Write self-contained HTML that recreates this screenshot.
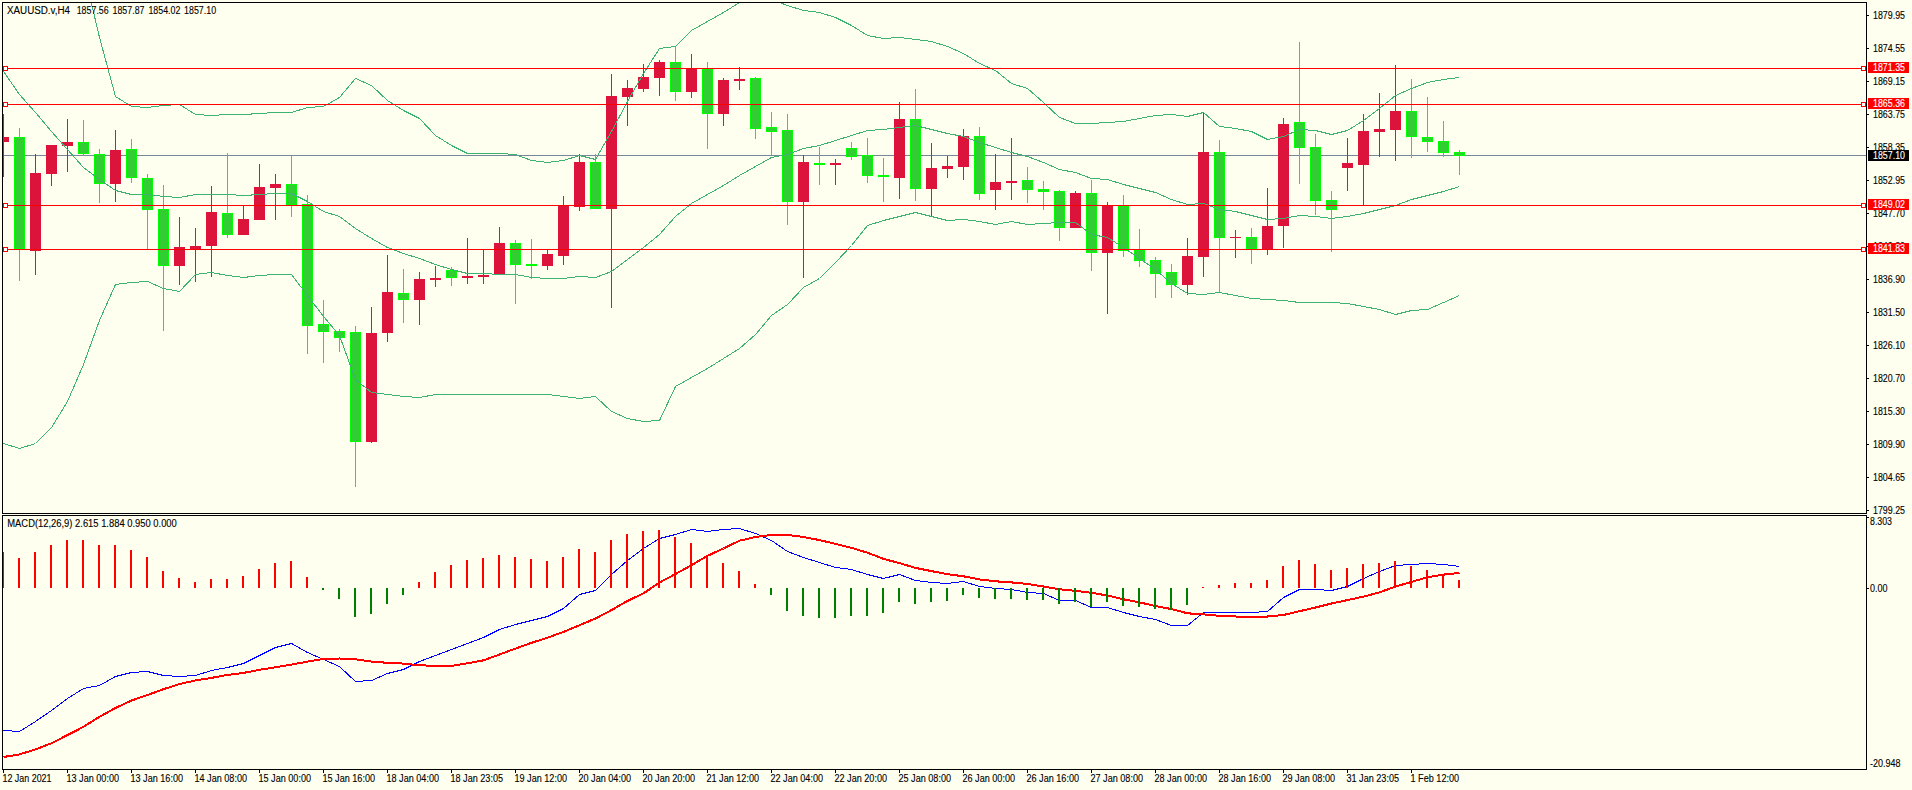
<!DOCTYPE html><html><head><meta charset="utf-8"><title>XAUUSD.v,H4</title><style>
html,body{margin:0;padding:0;background:#FFFFF0;width:1912px;height:790px;overflow:hidden}
svg{display:block}
text{font-family:'Liberation Sans',Arial,sans-serif;font-size:10px;fill:#000;stroke:#000;stroke-width:0.12px;paint-order:stroke}
</style></head><body>
<svg width="1912" height="790" viewBox="0 0 1912 790">
<defs><clipPath id="cm"><rect x="3" y="3" width="1863" height="510"/></clipPath>
<clipPath id="cd"><rect x="3" y="516" width="1863" height="253"/></clipPath></defs>
<rect x="0" y="0" width="1912" height="790" fill="#FFFFF0"/>
<g clip-path="url(#cm)" shape-rendering="crispEdges">
<rect x="3" y="155" width="1863" height="1" fill="#778899"/>
<rect x="3" y="114" width="1" height="63" fill="#DC143C"/>
<rect x="-2" y="137" width="11" height="5" fill="#DC143C"/>
<rect x="19" y="128" width="1" height="153" fill="#00FF00"/>
<rect x="14" y="137" width="11" height="112" fill="#00FF00"/>
<rect x="15" y="138" width="9" height="110" fill="#32CD32"/>
<rect x="35" y="154" width="1" height="121" fill="#DC143C"/>
<rect x="30" y="173" width="11" height="78" fill="#DC143C"/>
<rect x="51" y="145" width="1" height="41" fill="#DC143C"/>
<rect x="46" y="145" width="11" height="29" fill="#DC143C"/>
<rect x="67" y="119" width="1" height="53" fill="#DC143C"/>
<rect x="62" y="142" width="11" height="4" fill="#DC143C"/>
<rect x="83" y="120" width="1" height="35" fill="#00FF00"/>
<rect x="78" y="142" width="11" height="12" fill="#00FF00"/>
<rect x="79" y="143" width="9" height="10" fill="#32CD32"/>
<rect x="99" y="149" width="1" height="54" fill="#00FF00"/>
<rect x="94" y="154" width="11" height="30" fill="#00FF00"/>
<rect x="95" y="155" width="9" height="28" fill="#32CD32"/>
<rect x="115" y="130" width="1" height="72" fill="#DC143C"/>
<rect x="110" y="150" width="11" height="34" fill="#DC143C"/>
<rect x="131" y="139" width="1" height="44" fill="#00FF00"/>
<rect x="126" y="149" width="11" height="29" fill="#00FF00"/>
<rect x="127" y="150" width="9" height="27" fill="#32CD32"/>
<rect x="147" y="174" width="1" height="75" fill="#00FF00"/>
<rect x="142" y="178" width="11" height="32" fill="#00FF00"/>
<rect x="143" y="179" width="9" height="30" fill="#32CD32"/>
<rect x="163" y="185" width="1" height="146" fill="#00FF00"/>
<rect x="158" y="209" width="11" height="57" fill="#00FF00"/>
<rect x="159" y="210" width="9" height="55" fill="#32CD32"/>
<rect x="179" y="217" width="1" height="68" fill="#DC143C"/>
<rect x="174" y="247" width="11" height="19" fill="#DC143C"/>
<rect x="195" y="228" width="1" height="54" fill="#DC143C"/>
<rect x="190" y="246" width="11" height="3" fill="#DC143C"/>
<rect x="211" y="186" width="1" height="91" fill="#DC143C"/>
<rect x="206" y="212" width="11" height="34" fill="#DC143C"/>
<rect x="227" y="153" width="1" height="85" fill="#00FF00"/>
<rect x="222" y="213" width="11" height="22" fill="#00FF00"/>
<rect x="223" y="214" width="9" height="20" fill="#32CD32"/>
<rect x="243" y="206" width="1" height="29" fill="#DC143C"/>
<rect x="238" y="219" width="11" height="16" fill="#DC143C"/>
<rect x="259" y="164" width="1" height="56" fill="#DC143C"/>
<rect x="254" y="187" width="11" height="33" fill="#DC143C"/>
<rect x="275" y="174" width="1" height="46" fill="#DC143C"/>
<rect x="270" y="184" width="11" height="4" fill="#DC143C"/>
<rect x="291" y="156" width="1" height="61" fill="#00FF00"/>
<rect x="286" y="184" width="11" height="21" fill="#00FF00"/>
<rect x="287" y="185" width="9" height="19" fill="#32CD32"/>
<rect x="307" y="195" width="1" height="159" fill="#00FF00"/>
<rect x="302" y="204" width="11" height="122" fill="#00FF00"/>
<rect x="303" y="205" width="9" height="120" fill="#32CD32"/>
<rect x="323" y="300" width="1" height="63" fill="#00FF00"/>
<rect x="318" y="324" width="11" height="8" fill="#00FF00"/>
<rect x="319" y="325" width="9" height="6" fill="#32CD32"/>
<rect x="339" y="329" width="1" height="23" fill="#00FF00"/>
<rect x="334" y="331" width="11" height="7" fill="#00FF00"/>
<rect x="335" y="332" width="9" height="5" fill="#32CD32"/>
<rect x="355" y="326" width="1" height="161" fill="#00FF00"/>
<rect x="350" y="332" width="11" height="110" fill="#00FF00"/>
<rect x="351" y="333" width="9" height="108" fill="#32CD32"/>
<rect x="371" y="307" width="1" height="136" fill="#DC143C"/>
<rect x="366" y="333" width="11" height="109" fill="#DC143C"/>
<rect x="387" y="255" width="1" height="87" fill="#DC143C"/>
<rect x="382" y="292" width="11" height="41" fill="#DC143C"/>
<rect x="403" y="269" width="1" height="54" fill="#00FF00"/>
<rect x="398" y="293" width="11" height="7" fill="#00FF00"/>
<rect x="399" y="294" width="9" height="5" fill="#32CD32"/>
<rect x="419" y="272" width="1" height="53" fill="#DC143C"/>
<rect x="414" y="279" width="11" height="21" fill="#DC143C"/>
<rect x="435" y="266" width="1" height="21" fill="#DC143C"/>
<rect x="430" y="278" width="11" height="2" fill="#DC143C"/>
<rect x="451" y="267" width="1" height="19" fill="#00FF00"/>
<rect x="446" y="270" width="11" height="8" fill="#00FF00"/>
<rect x="447" y="271" width="9" height="6" fill="#32CD32"/>
<rect x="467" y="238" width="1" height="46" fill="#DC143C"/>
<rect x="462" y="276" width="11" height="2" fill="#DC143C"/>
<rect x="483" y="250" width="1" height="34" fill="#DC143C"/>
<rect x="478" y="275" width="11" height="2" fill="#DC143C"/>
<rect x="499" y="227" width="1" height="47" fill="#DC143C"/>
<rect x="494" y="243" width="11" height="31" fill="#DC143C"/>
<rect x="515" y="240" width="1" height="64" fill="#00FF00"/>
<rect x="510" y="243" width="11" height="22" fill="#00FF00"/>
<rect x="511" y="244" width="9" height="20" fill="#32CD32"/>
<rect x="531" y="239" width="1" height="40" fill="#00FF00"/>
<rect x="526" y="264" width="11" height="2" fill="#00FF00"/>
<rect x="547" y="250" width="1" height="20" fill="#DC143C"/>
<rect x="542" y="254" width="11" height="12" fill="#DC143C"/>
<rect x="563" y="196" width="1" height="69" fill="#DC143C"/>
<rect x="558" y="205" width="11" height="51" fill="#DC143C"/>
<rect x="579" y="154" width="1" height="57" fill="#DC143C"/>
<rect x="574" y="162" width="11" height="45" fill="#DC143C"/>
<rect x="595" y="154" width="1" height="55" fill="#00FF00"/>
<rect x="590" y="162" width="11" height="47" fill="#00FF00"/>
<rect x="591" y="163" width="9" height="45" fill="#32CD32"/>
<rect x="611" y="74" width="1" height="234" fill="#DC143C"/>
<rect x="606" y="96" width="11" height="113" fill="#DC143C"/>
<rect x="627" y="80" width="1" height="46" fill="#DC143C"/>
<rect x="622" y="88" width="11" height="9" fill="#DC143C"/>
<rect x="643" y="64" width="1" height="28" fill="#DC143C"/>
<rect x="638" y="77" width="11" height="12" fill="#DC143C"/>
<rect x="659" y="60" width="1" height="36" fill="#DC143C"/>
<rect x="654" y="62" width="11" height="16" fill="#DC143C"/>
<rect x="675" y="46" width="1" height="55" fill="#00FF00"/>
<rect x="670" y="62" width="11" height="30" fill="#00FF00"/>
<rect x="671" y="63" width="9" height="28" fill="#32CD32"/>
<rect x="691" y="54" width="1" height="44" fill="#DC143C"/>
<rect x="686" y="68" width="11" height="24" fill="#DC143C"/>
<rect x="707" y="62" width="1" height="87" fill="#00FF00"/>
<rect x="702" y="69" width="11" height="45" fill="#00FF00"/>
<rect x="703" y="70" width="9" height="43" fill="#32CD32"/>
<rect x="723" y="78" width="1" height="48" fill="#DC143C"/>
<rect x="718" y="80" width="11" height="34" fill="#DC143C"/>
<rect x="739" y="67" width="1" height="23" fill="#DC143C"/>
<rect x="734" y="79" width="11" height="2" fill="#DC143C"/>
<rect x="755" y="77" width="1" height="62" fill="#00FF00"/>
<rect x="750" y="78" width="11" height="51" fill="#00FF00"/>
<rect x="751" y="79" width="9" height="49" fill="#32CD32"/>
<rect x="771" y="112" width="1" height="43" fill="#00FF00"/>
<rect x="766" y="127" width="11" height="5" fill="#00FF00"/>
<rect x="767" y="128" width="9" height="3" fill="#32CD32"/>
<rect x="787" y="114" width="1" height="111" fill="#00FF00"/>
<rect x="782" y="130" width="11" height="72" fill="#00FF00"/>
<rect x="783" y="131" width="9" height="70" fill="#32CD32"/>
<rect x="803" y="155" width="1" height="123" fill="#DC143C"/>
<rect x="798" y="162" width="11" height="40" fill="#DC143C"/>
<rect x="819" y="147" width="1" height="38" fill="#00FF00"/>
<rect x="814" y="163" width="11" height="2" fill="#00FF00"/>
<rect x="835" y="159" width="1" height="26" fill="#DC143C"/>
<rect x="830" y="163" width="11" height="2" fill="#DC143C"/>
<rect x="851" y="142" width="1" height="18" fill="#00FF00"/>
<rect x="846" y="148" width="11" height="9" fill="#00FF00"/>
<rect x="847" y="149" width="9" height="7" fill="#32CD32"/>
<rect x="867" y="138" width="1" height="45" fill="#00FF00"/>
<rect x="862" y="155" width="11" height="21" fill="#00FF00"/>
<rect x="863" y="156" width="9" height="19" fill="#32CD32"/>
<rect x="883" y="158" width="1" height="44" fill="#00FF00"/>
<rect x="878" y="175" width="11" height="2" fill="#00FF00"/>
<rect x="899" y="102" width="1" height="97" fill="#DC143C"/>
<rect x="894" y="119" width="11" height="59" fill="#DC143C"/>
<rect x="915" y="89" width="1" height="112" fill="#00FF00"/>
<rect x="910" y="119" width="11" height="70" fill="#00FF00"/>
<rect x="911" y="120" width="9" height="68" fill="#32CD32"/>
<rect x="931" y="143" width="1" height="74" fill="#DC143C"/>
<rect x="926" y="168" width="11" height="21" fill="#DC143C"/>
<rect x="947" y="156" width="1" height="22" fill="#DC143C"/>
<rect x="942" y="166" width="11" height="3" fill="#DC143C"/>
<rect x="963" y="129" width="1" height="51" fill="#DC143C"/>
<rect x="958" y="136" width="11" height="31" fill="#DC143C"/>
<rect x="979" y="127" width="1" height="73" fill="#00FF00"/>
<rect x="974" y="136" width="11" height="58" fill="#00FF00"/>
<rect x="975" y="137" width="9" height="56" fill="#32CD32"/>
<rect x="995" y="154" width="1" height="56" fill="#DC143C"/>
<rect x="990" y="182" width="11" height="8" fill="#DC143C"/>
<rect x="1011" y="138" width="1" height="62" fill="#DC143C"/>
<rect x="1006" y="181" width="11" height="2" fill="#DC143C"/>
<rect x="1027" y="167" width="1" height="36" fill="#00FF00"/>
<rect x="1022" y="180" width="11" height="10" fill="#00FF00"/>
<rect x="1023" y="181" width="9" height="8" fill="#32CD32"/>
<rect x="1043" y="181" width="1" height="29" fill="#00FF00"/>
<rect x="1038" y="189" width="11" height="3" fill="#00FF00"/>
<rect x="1039" y="190" width="9" height="1" fill="#32CD32"/>
<rect x="1059" y="190" width="1" height="51" fill="#00FF00"/>
<rect x="1054" y="191" width="11" height="37" fill="#00FF00"/>
<rect x="1055" y="192" width="9" height="35" fill="#32CD32"/>
<rect x="1075" y="191" width="1" height="37" fill="#DC143C"/>
<rect x="1070" y="193" width="11" height="35" fill="#DC143C"/>
<rect x="1091" y="180" width="1" height="91" fill="#00FF00"/>
<rect x="1086" y="193" width="11" height="60" fill="#00FF00"/>
<rect x="1087" y="194" width="9" height="58" fill="#32CD32"/>
<rect x="1107" y="202" width="1" height="112" fill="#DC143C"/>
<rect x="1102" y="205" width="11" height="48" fill="#DC143C"/>
<rect x="1123" y="195" width="1" height="62" fill="#00FF00"/>
<rect x="1118" y="206" width="11" height="45" fill="#00FF00"/>
<rect x="1119" y="207" width="9" height="43" fill="#32CD32"/>
<rect x="1139" y="229" width="1" height="38" fill="#00FF00"/>
<rect x="1134" y="250" width="11" height="11" fill="#00FF00"/>
<rect x="1135" y="251" width="9" height="9" fill="#32CD32"/>
<rect x="1155" y="257" width="1" height="41" fill="#00FF00"/>
<rect x="1150" y="260" width="11" height="14" fill="#00FF00"/>
<rect x="1151" y="261" width="9" height="12" fill="#32CD32"/>
<rect x="1171" y="264" width="1" height="34" fill="#00FF00"/>
<rect x="1166" y="272" width="11" height="13" fill="#00FF00"/>
<rect x="1167" y="273" width="9" height="11" fill="#32CD32"/>
<rect x="1187" y="238" width="1" height="57" fill="#DC143C"/>
<rect x="1182" y="256" width="11" height="29" fill="#DC143C"/>
<rect x="1203" y="112" width="1" height="165" fill="#DC143C"/>
<rect x="1198" y="152" width="11" height="105" fill="#DC143C"/>
<rect x="1219" y="140" width="1" height="152" fill="#00FF00"/>
<rect x="1214" y="152" width="11" height="86" fill="#00FF00"/>
<rect x="1215" y="153" width="9" height="84" fill="#32CD32"/>
<rect x="1235" y="230" width="1" height="28" fill="#DC143C"/>
<rect x="1230" y="237" width="11" height="1" fill="#DC143C"/>
<rect x="1251" y="228" width="1" height="36" fill="#00FF00"/>
<rect x="1246" y="237" width="11" height="12" fill="#00FF00"/>
<rect x="1247" y="238" width="9" height="10" fill="#32CD32"/>
<rect x="1267" y="188" width="1" height="67" fill="#DC143C"/>
<rect x="1262" y="226" width="11" height="23" fill="#DC143C"/>
<rect x="1283" y="118" width="1" height="130" fill="#DC143C"/>
<rect x="1278" y="124" width="11" height="102" fill="#DC143C"/>
<rect x="1299" y="42" width="1" height="142" fill="#00FF00"/>
<rect x="1294" y="122" width="11" height="26" fill="#00FF00"/>
<rect x="1295" y="123" width="9" height="24" fill="#32CD32"/>
<rect x="1315" y="134" width="1" height="81" fill="#00FF00"/>
<rect x="1310" y="147" width="11" height="54" fill="#00FF00"/>
<rect x="1311" y="148" width="9" height="52" fill="#32CD32"/>
<rect x="1331" y="191" width="1" height="61" fill="#00FF00"/>
<rect x="1326" y="200" width="11" height="10" fill="#00FF00"/>
<rect x="1327" y="201" width="9" height="8" fill="#32CD32"/>
<rect x="1347" y="138" width="1" height="53" fill="#DC143C"/>
<rect x="1342" y="163" width="11" height="5" fill="#DC143C"/>
<rect x="1363" y="114" width="1" height="91" fill="#DC143C"/>
<rect x="1358" y="131" width="11" height="34" fill="#DC143C"/>
<rect x="1379" y="93" width="1" height="64" fill="#DC143C"/>
<rect x="1374" y="129" width="11" height="3" fill="#DC143C"/>
<rect x="1395" y="65" width="1" height="96" fill="#DC143C"/>
<rect x="1390" y="111" width="11" height="19" fill="#DC143C"/>
<rect x="1411" y="79" width="1" height="79" fill="#00FF00"/>
<rect x="1406" y="111" width="11" height="26" fill="#00FF00"/>
<rect x="1407" y="112" width="9" height="24" fill="#32CD32"/>
<rect x="1427" y="97" width="1" height="55" fill="#00FF00"/>
<rect x="1422" y="137" width="11" height="5" fill="#00FF00"/>
<rect x="1423" y="138" width="9" height="3" fill="#32CD32"/>
<rect x="1443" y="121" width="1" height="36" fill="#00FF00"/>
<rect x="1438" y="141" width="11" height="12" fill="#00FF00"/>
<rect x="1439" y="142" width="9" height="10" fill="#32CD32"/>
<rect x="1459" y="150" width="1" height="25" fill="#00FF00"/>
<rect x="1454" y="152" width="11" height="4" fill="#00FF00"/>
<rect x="1455" y="153" width="9" height="2" fill="#32CD32"/>
<polyline points="3.5,-299.5 19.5,-259.5 35.5,-217.5 51.5,-164.5 67.5,-101.5 83.5,-30.5 99.5,37.5 115.5,96.5 131.5,106.5 147.5,107.5 163.5,105.5 179.5,104.5 195.5,114.5 211.5,115.5 227.5,114.5 243.5,114.5 259.5,113.5 275.5,112.5 291.5,112.5 307.5,107.5 323.5,106.5 339.5,97.5 355.5,78.5 371.5,85.5 387.5,100.5 403.5,110.5 419.5,118.5 435.5,135.5 451.5,145.5 467.5,153.5 483.5,153.5 499.5,153.5 515.5,154.5 531.5,160.5 547.5,162.5 563.5,160.5 579.5,155.5 595.5,159.5 611.5,131.5 627.5,101.5 643.5,73.5 659.5,48.5 675.5,46.5 691.5,30.5 707.5,21.5 723.5,12.5 739.5,2.5 755.5,-0.5 771.5,-0.5 787.5,5.5 803.5,10.5 819.5,12.5 835.5,17.5 851.5,25.5 867.5,35.5 883.5,38.5 899.5,37.5 915.5,39.5 931.5,41.5 947.5,46.5 963.5,53.5 979.5,63.5 995.5,70.5 1011.5,83.5 1027.5,88.5 1043.5,102.5 1059.5,117.5 1075.5,123.5 1091.5,123.5 1107.5,122.5 1123.5,121.5 1139.5,118.5 1155.5,115.5 1171.5,114.5 1187.5,116.5 1203.5,112.5 1219.5,126.5 1235.5,128.5 1251.5,131.5 1267.5,139.5 1283.5,136.5 1299.5,129.5 1315.5,130.5 1331.5,134.5 1347.5,130.5 1363.5,120.5 1379.5,108.5 1395.5,95.5 1411.5,88.5 1427.5,82.5 1443.5,79.5 1459.5,77.5" fill="none" stroke="#3CB371" stroke-width="1"/>
<polyline points="3.5,71.5 19.5,94.5 35.5,112.5 51.5,131.5 67.5,149.5 83.5,167.5 99.5,179.5 115.5,190.5 131.5,194.5 147.5,194.5 163.5,196.5 179.5,197.5 195.5,194.5 211.5,194.5 227.5,194.5 243.5,195.5 259.5,194.5 275.5,193.5 291.5,193.5 307.5,201.5 323.5,211.5 339.5,216.5 355.5,228.5 371.5,238.5 387.5,247.5 403.5,253.5 419.5,258.5 435.5,264.5 451.5,269.5 467.5,273.5 483.5,273.5 499.5,274.5 515.5,274.5 531.5,277.5 547.5,278.5 563.5,278.5 579.5,276.5 595.5,277.5 611.5,271.5 627.5,259.5 643.5,247.5 659.5,234.5 675.5,216.5 691.5,203.5 707.5,194.5 723.5,185.5 739.5,175.5 755.5,166.5 771.5,157.5 787.5,154.5 803.5,148.5 819.5,145.5 835.5,140.5 851.5,135.5 867.5,130.5 883.5,129.5 899.5,127.5 915.5,125.5 931.5,129.5 947.5,133.5 963.5,136.5 979.5,142.5 995.5,147.5 1011.5,152.5 1027.5,156.5 1043.5,162.5 1059.5,169.5 1075.5,172.5 1091.5,178.5 1107.5,179.5 1123.5,184.5 1139.5,188.5 1155.5,192.5 1171.5,199.5 1187.5,204.5 1203.5,203.5 1219.5,209.5 1235.5,211.5 1251.5,215.5 1267.5,219.5 1283.5,218.5 1299.5,215.5 1315.5,216.5 1331.5,218.5 1347.5,216.5 1363.5,213.5 1379.5,209.5 1395.5,205.5 1411.5,199.5 1427.5,195.5 1443.5,191.5 1459.5,186.5" fill="none" stroke="#3CB371" stroke-width="1"/>
<polyline points="3.5,443.5 19.5,448.5 35.5,443.5 51.5,427.5 67.5,401.5 83.5,364.5 99.5,320.5 115.5,284.5 131.5,282.5 147.5,281.5 163.5,288.5 179.5,291.5 195.5,274.5 211.5,272.5 227.5,275.5 243.5,277.5 259.5,275.5 275.5,274.5 291.5,274.5 307.5,295.5 323.5,316.5 339.5,335.5 355.5,379.5 371.5,392.5 387.5,394.5 403.5,396.5 419.5,397.5 435.5,394.5 451.5,394.5 467.5,394.5 483.5,394.5 499.5,394.5 515.5,394.5 531.5,394.5 547.5,394.5 563.5,396.5 579.5,398.5 595.5,396.5 611.5,411.5 627.5,418.5 643.5,421.5 659.5,420.5 675.5,386.5 691.5,377.5 707.5,368.5 723.5,358.5 739.5,348.5 755.5,334.5 771.5,315.5 787.5,304.5 803.5,287.5 819.5,278.5 835.5,262.5 851.5,245.5 867.5,225.5 883.5,220.5 899.5,216.5 915.5,212.5 931.5,216.5 947.5,220.5 963.5,219.5 979.5,221.5 995.5,224.5 1011.5,221.5 1027.5,224.5 1043.5,223.5 1059.5,222.5 1075.5,222.5 1091.5,234.5 1107.5,237.5 1123.5,247.5 1139.5,258.5 1155.5,269.5 1171.5,283.5 1187.5,293.5 1203.5,294.5 1219.5,292.5 1235.5,295.5 1251.5,298.5 1267.5,299.5 1283.5,300.5 1299.5,302.5 1315.5,302.5 1331.5,302.5 1347.5,303.5 1363.5,306.5 1379.5,309.5 1395.5,314.5 1411.5,310.5 1427.5,309.5 1443.5,302.5 1459.5,295.5" fill="none" stroke="#3CB371" stroke-width="1"/>
<rect x="3" y="68" width="1863" height="1" fill="#FF0000"/>
<rect x="3" y="104" width="1863" height="1" fill="#FF0000"/>
<rect x="3" y="205" width="1863" height="1" fill="#FF0000"/>
<rect x="3" y="249" width="1863" height="1" fill="#FF0000"/>
<rect x="3" y="66" width="5" height="5" fill="#FF0000"/>
<rect x="4" y="67" width="3" height="3" fill="#FFFFFF"/>
<rect x="1861" y="66" width="5" height="5" fill="#FF0000"/>
<rect x="1862" y="67" width="3" height="3" fill="#FFFFFF"/>
<rect x="3" y="102" width="5" height="5" fill="#FF0000"/>
<rect x="4" y="103" width="3" height="3" fill="#FFFFFF"/>
<rect x="1861" y="102" width="5" height="5" fill="#FF0000"/>
<rect x="1862" y="103" width="3" height="3" fill="#FFFFFF"/>
<rect x="3" y="203" width="5" height="5" fill="#FF0000"/>
<rect x="4" y="204" width="3" height="3" fill="#FFFFFF"/>
<rect x="1861" y="203" width="5" height="5" fill="#FF0000"/>
<rect x="1862" y="204" width="3" height="3" fill="#FFFFFF"/>
<rect x="3" y="247" width="5" height="5" fill="#FF0000"/>
<rect x="4" y="248" width="3" height="3" fill="#FFFFFF"/>
<rect x="1861" y="247" width="5" height="5" fill="#FF0000"/>
<rect x="1862" y="248" width="3" height="3" fill="#FFFFFF"/>
</g>
<g clip-path="url(#cd)" shape-rendering="crispEdges">
<polyline points="3.5,730.5 19.5,731.5 35.5,721.5 51.5,710.5 67.5,698.5 83.5,688.5 99.5,685.5 115.5,676.5 131.5,672.5 147.5,671.5 163.5,675.5 179.5,676.5 195.5,675.5 211.5,670.5 227.5,667.5 243.5,663.5 259.5,655.5 275.5,647.5 291.5,643.5 307.5,652.5 323.5,659.5 339.5,666.5 355.5,681.5 371.5,680.5 387.5,673.5 403.5,669.5 419.5,661.5 435.5,655.5 451.5,649.5 467.5,643.5 483.5,637.5 499.5,629.5 515.5,624.5 531.5,620.5 547.5,616.5 563.5,608.5 579.5,594.5 595.5,590.5 611.5,574.5 627.5,560.5 643.5,548.5 659.5,538.5 675.5,534.5 691.5,529.5 707.5,531.5 723.5,529.5 739.5,528.5 755.5,533.5 771.5,540.5 787.5,551.5 803.5,557.5 819.5,562.5 835.5,567.5 851.5,569.5 867.5,574.5 883.5,578.5 899.5,574.5 915.5,580.5 931.5,582.5 947.5,583.5 963.5,581.5 979.5,586.5 995.5,588.5 1011.5,589.5 1027.5,592.5 1043.5,593.5 1059.5,600.5 1075.5,600.5 1091.5,607.5 1107.5,607.5 1123.5,612.5 1139.5,616.5 1155.5,619.5 1171.5,625.5 1187.5,625.5 1203.5,612.5 1219.5,612.5 1235.5,612.5 1251.5,612.5 1267.5,611.5 1283.5,597.5 1299.5,589.5 1315.5,589.5 1331.5,590.5 1347.5,586.5 1363.5,578.5 1379.5,571.5 1395.5,565.5 1411.5,564.5 1427.5,563.5 1443.5,564.5 1459.5,566.5" fill="none" stroke="#0000FF" stroke-width="1"/>
<polyline points="3.5,757.0 19.5,754.4 35.5,749.4 51.5,743.2 67.5,735.1 83.5,726.8 99.5,716.8 115.5,708.0 131.5,700.5 147.5,695.0 163.5,689.2 179.5,684.1 195.5,680.4 211.5,677.9 227.5,674.9 243.5,672.9 259.5,669.8 275.5,667.3 291.5,664.6 307.5,661.6 323.5,659.0 339.5,658.5 355.5,659.3 371.5,661.6 387.5,662.8 403.5,663.6 419.5,665.3 435.5,665.8 451.5,665.9 467.5,663.3 483.5,660.3 499.5,654.5 515.5,648.6 531.5,642.8 547.5,637.7 563.5,631.9 579.5,625.2 595.5,618.5 611.5,610.1 627.5,600.9 643.5,593.4 659.5,582.5 675.5,574.0 691.5,565.2 707.5,555.8 723.5,548.5 739.5,540.7 755.5,537.0 771.5,534.9 787.5,534.9 803.5,537.0 819.5,540.1 835.5,543.9 851.5,547.8 867.5,552.7 883.5,558.9 899.5,563.1 915.5,567.9 931.5,571.1 947.5,574.2 963.5,576.3 979.5,579.4 995.5,581.3 1011.5,582.4 1027.5,584.0 1043.5,586.5 1059.5,589.3 1075.5,590.9 1091.5,592.8 1107.5,595.5 1123.5,599.3 1139.5,602.4 1155.5,606.0 1171.5,609.1 1187.5,613.3 1203.5,614.4 1219.5,615.8 1235.5,616.5 1251.5,616.5 1267.5,616.5 1283.5,615.0 1299.5,611.2 1315.5,607.5 1331.5,603.5 1347.5,600.1 1363.5,596.6 1379.5,592.4 1395.5,586.5 1411.5,581.9 1427.5,577.3 1443.5,574.6 1459.5,573.0" fill="none" stroke="#FF0000" stroke-width="2" stroke-linejoin="round"/>
<rect x="2" y="552" width="2" height="36" fill="#FF0000"/>
<rect x="18" y="558" width="2" height="30" fill="#FF0000"/>
<rect x="34" y="552" width="2" height="36" fill="#FF0000"/>
<rect x="50" y="545" width="2" height="43" fill="#FF0000"/>
<rect x="66" y="540" width="2" height="48" fill="#FF0000"/>
<rect x="82" y="540" width="2" height="48" fill="#FF0000"/>
<rect x="98" y="545" width="2" height="43" fill="#FF0000"/>
<rect x="114" y="545" width="2" height="43" fill="#FF0000"/>
<rect x="130" y="550" width="2" height="38" fill="#FF0000"/>
<rect x="146" y="557" width="2" height="31" fill="#FF0000"/>
<rect x="162" y="571" width="2" height="17" fill="#FF0000"/>
<rect x="178" y="578" width="2" height="10" fill="#FF0000"/>
<rect x="194" y="582" width="2" height="6" fill="#FF0000"/>
<rect x="210" y="579" width="2" height="9" fill="#FF0000"/>
<rect x="226" y="579" width="2" height="9" fill="#FF0000"/>
<rect x="242" y="576" width="2" height="12" fill="#FF0000"/>
<rect x="258" y="569" width="2" height="19" fill="#FF0000"/>
<rect x="274" y="563" width="2" height="25" fill="#FF0000"/>
<rect x="290" y="561" width="2" height="27" fill="#FF0000"/>
<rect x="306" y="577" width="2" height="11" fill="#FF0000"/>
<rect x="322" y="588" width="2" height="2" fill="#008000"/>
<rect x="338" y="588" width="2" height="11" fill="#008000"/>
<rect x="354" y="588" width="2" height="29" fill="#008000"/>
<rect x="370" y="588" width="2" height="26" fill="#008000"/>
<rect x="386" y="588" width="2" height="16" fill="#008000"/>
<rect x="402" y="588" width="2" height="7" fill="#008000"/>
<rect x="418" y="582" width="2" height="6" fill="#FF0000"/>
<rect x="434" y="572" width="2" height="16" fill="#FF0000"/>
<rect x="450" y="565" width="2" height="23" fill="#FF0000"/>
<rect x="466" y="560" width="2" height="28" fill="#FF0000"/>
<rect x="482" y="558" width="2" height="30" fill="#FF0000"/>
<rect x="498" y="555" width="2" height="33" fill="#FF0000"/>
<rect x="514" y="557" width="2" height="31" fill="#FF0000"/>
<rect x="530" y="559" width="2" height="29" fill="#FF0000"/>
<rect x="546" y="561" width="2" height="27" fill="#FF0000"/>
<rect x="562" y="557" width="2" height="31" fill="#FF0000"/>
<rect x="578" y="549" width="2" height="39" fill="#FF0000"/>
<rect x="594" y="552" width="2" height="36" fill="#FF0000"/>
<rect x="610" y="540" width="2" height="48" fill="#FF0000"/>
<rect x="626" y="534" width="2" height="54" fill="#FF0000"/>
<rect x="642" y="531" width="2" height="57" fill="#FF0000"/>
<rect x="658" y="530" width="2" height="58" fill="#FF0000"/>
<rect x="674" y="537" width="2" height="51" fill="#FF0000"/>
<rect x="690" y="543" width="2" height="45" fill="#FF0000"/>
<rect x="706" y="556" width="2" height="32" fill="#FF0000"/>
<rect x="722" y="563" width="2" height="25" fill="#FF0000"/>
<rect x="738" y="571" width="2" height="17" fill="#FF0000"/>
<rect x="754" y="584" width="2" height="4" fill="#FF0000"/>
<rect x="770" y="588" width="2" height="7" fill="#008000"/>
<rect x="786" y="588" width="2" height="23" fill="#008000"/>
<rect x="802" y="588" width="2" height="28" fill="#008000"/>
<rect x="818" y="588" width="2" height="30" fill="#008000"/>
<rect x="834" y="588" width="2" height="30" fill="#008000"/>
<rect x="850" y="588" width="2" height="28" fill="#008000"/>
<rect x="866" y="588" width="2" height="28" fill="#008000"/>
<rect x="882" y="588" width="2" height="25" fill="#008000"/>
<rect x="898" y="588" width="2" height="14" fill="#008000"/>
<rect x="914" y="588" width="2" height="16" fill="#008000"/>
<rect x="930" y="588" width="2" height="14" fill="#008000"/>
<rect x="946" y="588" width="2" height="13" fill="#008000"/>
<rect x="962" y="588" width="2" height="7" fill="#008000"/>
<rect x="978" y="588" width="2" height="10" fill="#008000"/>
<rect x="994" y="588" width="2" height="11" fill="#008000"/>
<rect x="1010" y="588" width="2" height="11" fill="#008000"/>
<rect x="1026" y="588" width="2" height="12" fill="#008000"/>
<rect x="1042" y="588" width="2" height="12" fill="#008000"/>
<rect x="1058" y="588" width="2" height="16" fill="#008000"/>
<rect x="1074" y="588" width="2" height="14" fill="#008000"/>
<rect x="1090" y="588" width="2" height="19" fill="#008000"/>
<rect x="1106" y="588" width="2" height="14" fill="#008000"/>
<rect x="1122" y="588" width="2" height="18" fill="#008000"/>
<rect x="1138" y="588" width="2" height="19" fill="#008000"/>
<rect x="1154" y="588" width="2" height="21" fill="#008000"/>
<rect x="1170" y="588" width="2" height="22" fill="#008000"/>
<rect x="1186" y="588" width="2" height="17" fill="#008000"/>
<rect x="1202" y="587" width="2" height="1" fill="#FF0000"/>
<rect x="1218" y="585" width="2" height="3" fill="#FF0000"/>
<rect x="1234" y="583" width="2" height="5" fill="#FF0000"/>
<rect x="1250" y="583" width="2" height="5" fill="#FF0000"/>
<rect x="1266" y="580" width="2" height="8" fill="#FF0000"/>
<rect x="1282" y="566" width="2" height="22" fill="#FF0000"/>
<rect x="1298" y="560" width="2" height="28" fill="#FF0000"/>
<rect x="1314" y="564" width="2" height="24" fill="#FF0000"/>
<rect x="1330" y="570" width="2" height="18" fill="#FF0000"/>
<rect x="1346" y="568" width="2" height="20" fill="#FF0000"/>
<rect x="1362" y="564" width="2" height="24" fill="#FF0000"/>
<rect x="1378" y="563" width="2" height="25" fill="#FF0000"/>
<rect x="1394" y="561" width="2" height="27" fill="#FF0000"/>
<rect x="1410" y="566" width="2" height="22" fill="#FF0000"/>
<rect x="1426" y="570" width="2" height="18" fill="#FF0000"/>
<rect x="1442" y="574" width="2" height="14" fill="#FF0000"/>
<rect x="1458" y="580" width="2" height="8" fill="#FF0000"/>
</g>
<g shape-rendering="crispEdges" fill="#000">
<rect x="2" y="2" width="1865" height="1"/>
<rect x="2" y="2" width="1" height="512"/>
<rect x="1866" y="2" width="1" height="512"/>
<rect x="2" y="513" width="1865" height="1"/>
<rect x="2" y="515" width="1865" height="1"/>
<rect x="2" y="515" width="1" height="255"/>
<rect x="1866" y="515" width="1" height="255"/>
<rect x="2" y="769" width="1865" height="1"/>
<rect x="1867" y="15" width="2" height="1"/>
<rect x="1867" y="48" width="2" height="1"/>
<rect x="1867" y="81" width="2" height="1"/>
<rect x="1867" y="114" width="2" height="1"/>
<rect x="1867" y="147" width="2" height="1"/>
<rect x="1867" y="180" width="2" height="1"/>
<rect x="1867" y="213" width="2" height="1"/>
<rect x="1867" y="246" width="2" height="1"/>
<rect x="1867" y="279" width="2" height="1"/>
<rect x="1867" y="312" width="2" height="1"/>
<rect x="1867" y="345" width="2" height="1"/>
<rect x="1867" y="378" width="2" height="1"/>
<rect x="1867" y="411" width="2" height="1"/>
<rect x="1867" y="444" width="2" height="1"/>
<rect x="1867" y="477" width="2" height="1"/>
<rect x="1867" y="510" width="2" height="1"/>
<rect x="1867" y="517" width="2" height="1"/>
<rect x="1867" y="588" width="2" height="1"/>
<rect x="3" y="770" width="1" height="3"/>
<rect x="67" y="770" width="1" height="3"/>
<rect x="131" y="770" width="1" height="3"/>
<rect x="195" y="770" width="1" height="3"/>
<rect x="259" y="770" width="1" height="3"/>
<rect x="323" y="770" width="1" height="3"/>
<rect x="387" y="770" width="1" height="3"/>
<rect x="451" y="770" width="1" height="3"/>
<rect x="515" y="770" width="1" height="3"/>
<rect x="579" y="770" width="1" height="3"/>
<rect x="643" y="770" width="1" height="3"/>
<rect x="707" y="770" width="1" height="3"/>
<rect x="771" y="770" width="1" height="3"/>
<rect x="835" y="770" width="1" height="3"/>
<rect x="899" y="770" width="1" height="3"/>
<rect x="963" y="770" width="1" height="3"/>
<rect x="1027" y="770" width="1" height="3"/>
<rect x="1091" y="770" width="1" height="3"/>
<rect x="1155" y="770" width="1" height="3"/>
<rect x="1219" y="770" width="1" height="3"/>
<rect x="1283" y="770" width="1" height="3"/>
<rect x="1347" y="770" width="1" height="3"/>
<rect x="1411" y="770" width="1" height="3"/>
</g>
<text x="1873.0" y="18.5" textLength="32.0" lengthAdjust="spacingAndGlyphs">1879.95</text>
<text x="1873.0" y="51.5" textLength="32.0" lengthAdjust="spacingAndGlyphs">1874.55</text>
<text x="1873.0" y="84.5" textLength="32.0" lengthAdjust="spacingAndGlyphs">1869.15</text>
<text x="1873.0" y="117.5" textLength="32.0" lengthAdjust="spacingAndGlyphs">1863.75</text>
<text x="1873.0" y="150.5" textLength="32.0" lengthAdjust="spacingAndGlyphs">1858.35</text>
<text x="1873.0" y="183.5" textLength="32.0" lengthAdjust="spacingAndGlyphs">1852.95</text>
<text x="1873.0" y="216.5" textLength="32.0" lengthAdjust="spacingAndGlyphs">1847.70</text>
<text x="1873.0" y="249.5" textLength="32.0" lengthAdjust="spacingAndGlyphs">1842.30</text>
<text x="1873.0" y="282.5" textLength="32.0" lengthAdjust="spacingAndGlyphs">1836.90</text>
<text x="1873.0" y="315.5" textLength="32.0" lengthAdjust="spacingAndGlyphs">1831.50</text>
<text x="1873.0" y="348.5" textLength="32.0" lengthAdjust="spacingAndGlyphs">1826.10</text>
<text x="1873.0" y="381.5" textLength="32.0" lengthAdjust="spacingAndGlyphs">1820.70</text>
<text x="1873.0" y="414.5" textLength="32.0" lengthAdjust="spacingAndGlyphs">1815.30</text>
<text x="1873.0" y="447.5" textLength="32.0" lengthAdjust="spacingAndGlyphs">1809.90</text>
<text x="1873.0" y="480.5" textLength="32.0" lengthAdjust="spacingAndGlyphs">1804.65</text>
<text x="1873.0" y="513.5" textLength="32.0" lengthAdjust="spacingAndGlyphs">1799.25</text>
<rect x="1868" y="62" width="41" height="11" fill="#FF0000" shape-rendering="crispEdges"/>
<text x="1873.0" y="71.0" textLength="32.0" lengthAdjust="spacingAndGlyphs" style="fill:#FFFFFF;stroke:#FFFFFF">1871.35</text>
<rect x="1868" y="98" width="41" height="11" fill="#FF0000" shape-rendering="crispEdges"/>
<text x="1873.0" y="107.0" textLength="32.0" lengthAdjust="spacingAndGlyphs" style="fill:#FFFFFF;stroke:#FFFFFF">1865.36</text>
<rect x="1868" y="199" width="41" height="11" fill="#FF0000" shape-rendering="crispEdges"/>
<text x="1873.0" y="208.0" textLength="32.0" lengthAdjust="spacingAndGlyphs" style="fill:#FFFFFF;stroke:#FFFFFF">1849.02</text>
<rect x="1868" y="243" width="41" height="11" fill="#FF0000" shape-rendering="crispEdges"/>
<text x="1873.0" y="252.0" textLength="32.0" lengthAdjust="spacingAndGlyphs" style="fill:#FFFFFF;stroke:#FFFFFF">1841.83</text>
<rect x="1868" y="150" width="41" height="11" fill="#000000" shape-rendering="crispEdges"/>
<text x="1873.0" y="159.0" textLength="32.0" lengthAdjust="spacingAndGlyphs" style="fill:#FFFFFF;stroke:#FFFFFF">1857.10</text>
<text x="1870.0" y="525.2" textLength="22.0" lengthAdjust="spacingAndGlyphs">8.303</text>
<text x="1870.0" y="592.0" textLength="17.5" lengthAdjust="spacingAndGlyphs">0.00</text>
<text x="1870.0" y="766.5" textLength="30.5" lengthAdjust="spacingAndGlyphs">-20.948</text>
<text x="7.0" y="14.0" textLength="63.0" lengthAdjust="spacingAndGlyphs">XAUUSD.v,H4</text>
<text x="76.7" y="14.0" textLength="32.0" lengthAdjust="spacingAndGlyphs">1857.56</text>
<text x="112.5" y="14.0" textLength="32.0" lengthAdjust="spacingAndGlyphs">1857.87</text>
<text x="148.4" y="14.0" textLength="32.0" lengthAdjust="spacingAndGlyphs">1854.02</text>
<text x="184.1" y="14.0" textLength="32.0" lengthAdjust="spacingAndGlyphs">1857.10</text>
<text x="7.3" y="527.0" textLength="169.5" lengthAdjust="spacingAndGlyphs">MACD(12,26,9) 2.615 1.884 0.950 0.000</text>
<text x="2.5" y="782.0" textLength="49.0" lengthAdjust="spacingAndGlyphs">12 Jan 2021</text>
<text x="66.5" y="782.0" textLength="52.5" lengthAdjust="spacingAndGlyphs">13 Jan 00:00</text>
<text x="130.5" y="782.0" textLength="52.5" lengthAdjust="spacingAndGlyphs">13 Jan 16:00</text>
<text x="194.5" y="782.0" textLength="52.5" lengthAdjust="spacingAndGlyphs">14 Jan 08:00</text>
<text x="258.5" y="782.0" textLength="52.5" lengthAdjust="spacingAndGlyphs">15 Jan 00:00</text>
<text x="322.5" y="782.0" textLength="52.5" lengthAdjust="spacingAndGlyphs">15 Jan 16:00</text>
<text x="386.5" y="782.0" textLength="52.5" lengthAdjust="spacingAndGlyphs">18 Jan 04:00</text>
<text x="450.5" y="782.0" textLength="52.5" lengthAdjust="spacingAndGlyphs">18 Jan 23:05</text>
<text x="514.5" y="782.0" textLength="52.5" lengthAdjust="spacingAndGlyphs">19 Jan 12:00</text>
<text x="578.5" y="782.0" textLength="52.5" lengthAdjust="spacingAndGlyphs">20 Jan 04:00</text>
<text x="642.5" y="782.0" textLength="52.5" lengthAdjust="spacingAndGlyphs">20 Jan 20:00</text>
<text x="706.5" y="782.0" textLength="52.5" lengthAdjust="spacingAndGlyphs">21 Jan 12:00</text>
<text x="770.5" y="782.0" textLength="52.5" lengthAdjust="spacingAndGlyphs">22 Jan 04:00</text>
<text x="834.5" y="782.0" textLength="52.5" lengthAdjust="spacingAndGlyphs">22 Jan 20:00</text>
<text x="898.5" y="782.0" textLength="52.5" lengthAdjust="spacingAndGlyphs">25 Jan 08:00</text>
<text x="962.5" y="782.0" textLength="52.5" lengthAdjust="spacingAndGlyphs">26 Jan 00:00</text>
<text x="1026.5" y="782.0" textLength="52.5" lengthAdjust="spacingAndGlyphs">26 Jan 16:00</text>
<text x="1090.5" y="782.0" textLength="52.5" lengthAdjust="spacingAndGlyphs">27 Jan 08:00</text>
<text x="1154.5" y="782.0" textLength="52.5" lengthAdjust="spacingAndGlyphs">28 Jan 00:00</text>
<text x="1218.5" y="782.0" textLength="52.5" lengthAdjust="spacingAndGlyphs">28 Jan 16:00</text>
<text x="1282.5" y="782.0" textLength="52.5" lengthAdjust="spacingAndGlyphs">29 Jan 08:00</text>
<text x="1346.5" y="782.0" textLength="52.5" lengthAdjust="spacingAndGlyphs">31 Jan 23:05</text>
<text x="1410.5" y="782.0" textLength="48.6" lengthAdjust="spacingAndGlyphs">1 Feb 12:00</text>
</svg></body></html>
